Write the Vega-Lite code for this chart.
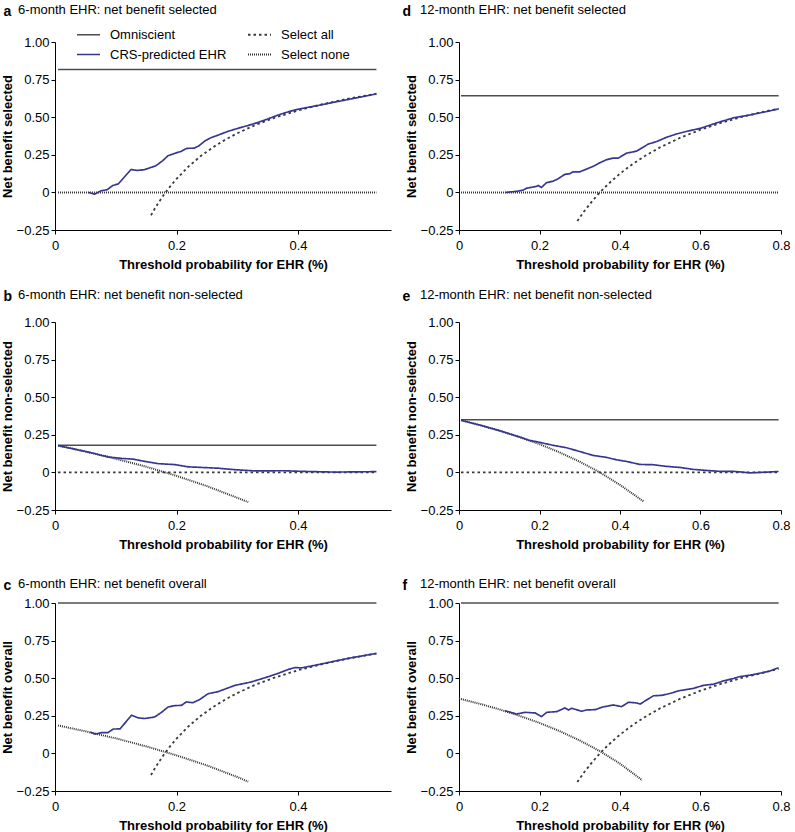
{
  "$schema": "https://vega.github.io/schema/vega-lite/v6.json",
  "padding": {"left": 1, "top": 4, "right": 0, "bottom": 0},
  "datasets": {
    "a": [
      {"series": "Omniscient", "x": 0.005, "y": 0.817}, {"series": "Omniscient", "x": 0.529, "y": 0.817},
      {"series": "Select none", "x": 0.005, "y": 0}, {"series": "Select none", "x": 0.529, "y": 0},
      {"series": "Select all", "x": 0.158, "y": -0.152}, {"series": "Select all", "x": 0.165, "y": -0.103},
      {"series": "Select all", "x": 0.17, "y": -0.071}, {"series": "Select all", "x": 0.18, "y": -0.011},
      {"series": "Select all", "x": 0.19, "y": 0.042}, {"series": "Select all", "x": 0.2, "y": 0.09},
      {"series": "Select all", "x": 0.22, "y": 0.173}, {"series": "Select all", "x": 0.24, "y": 0.242},
      {"series": "Select all", "x": 0.26, "y": 0.3}, {"series": "Select all", "x": 0.28, "y": 0.35},
      {"series": "Select all", "x": 0.3, "y": 0.393}, {"series": "Select all", "x": 0.33, "y": 0.449},
      {"series": "Select all", "x": 0.36, "y": 0.494}, {"series": "Select all", "x": 0.4, "y": 0.545},
      {"series": "Select all", "x": 0.44, "y": 0.586}, {"series": "Select all", "x": 0.48, "y": 0.621},
      {"series": "Select all", "x": 0.529, "y": 0.656},
      {"series": "CRS-predicted EHR", "x": 0.055, "y": 0.0}, {"series": "CRS-predicted EHR", "x": 0.065, "y": -0.012},
      {"series": "CRS-predicted EHR", "x": 0.076, "y": 0.011}, {"series": "CRS-predicted EHR", "x": 0.086, "y": 0.018},
      {"series": "CRS-predicted EHR", "x": 0.095, "y": 0.046}, {"series": "CRS-predicted EHR", "x": 0.104, "y": 0.056},
      {"series": "CRS-predicted EHR", "x": 0.125, "y": 0.152}, {"series": "CRS-predicted EHR", "x": 0.136, "y": 0.146},
      {"series": "CRS-predicted EHR", "x": 0.147, "y": 0.151}, {"series": "CRS-predicted EHR", "x": 0.166, "y": 0.177},
      {"series": "CRS-predicted EHR", "x": 0.177, "y": 0.21}, {"series": "CRS-predicted EHR", "x": 0.186, "y": 0.244},
      {"series": "CRS-predicted EHR", "x": 0.202, "y": 0.266}, {"series": "CRS-predicted EHR", "x": 0.207, "y": 0.272},
      {"series": "CRS-predicted EHR", "x": 0.217, "y": 0.293}, {"series": "CRS-predicted EHR", "x": 0.229, "y": 0.294},
      {"series": "CRS-predicted EHR", "x": 0.237, "y": 0.31}, {"series": "CRS-predicted EHR", "x": 0.247, "y": 0.343},
      {"series": "CRS-predicted EHR", "x": 0.257, "y": 0.364}, {"series": "CRS-predicted EHR", "x": 0.268, "y": 0.38},
      {"series": "CRS-predicted EHR", "x": 0.284, "y": 0.405}, {"series": "CRS-predicted EHR", "x": 0.301, "y": 0.426},
      {"series": "CRS-predicted EHR", "x": 0.317, "y": 0.444}, {"series": "CRS-predicted EHR", "x": 0.334, "y": 0.465},
      {"series": "CRS-predicted EHR", "x": 0.35, "y": 0.488}, {"series": "CRS-predicted EHR", "x": 0.367, "y": 0.514},
      {"series": "CRS-predicted EHR", "x": 0.384, "y": 0.536}, {"series": "CRS-predicted EHR", "x": 0.4, "y": 0.553},
      {"series": "CRS-predicted EHR", "x": 0.433, "y": 0.578}, {"series": "CRS-predicted EHR", "x": 0.46, "y": 0.6},
      {"series": "CRS-predicted EHR", "x": 0.488, "y": 0.622}, {"series": "CRS-predicted EHR", "x": 0.529, "y": 0.655}
    ],
    "b": [
      {"series": "Omniscient", "x": 0.005, "y": 0.181}, {"series": "Omniscient", "x": 0.529, "y": 0.181},
      {"series": "Select all", "x": 0.005, "y": 0}, {"series": "Select all", "x": 0.529, "y": 0},
      {"series": "Select none", "x": 0.005, "y": 0.178}, {"series": "Select none", "x": 0.05, "y": 0.139},
      {"series": "Select none", "x": 0.1, "y": 0.091}, {"series": "Select none", "x": 0.15, "y": 0.038},
      {"series": "Select none", "x": 0.2, "y": -0.023}, {"series": "Select none", "x": 0.25, "y": -0.091},
      {"series": "Select none", "x": 0.3, "y": -0.169}, {"series": "Select none", "x": 0.318, "y": -0.197},
      {"series": "CRS-predicted EHR", "x": 0.005, "y": 0.178}, {"series": "CRS-predicted EHR", "x": 0.03, "y": 0.157},
      {"series": "CRS-predicted EHR", "x": 0.06, "y": 0.13}, {"series": "CRS-predicted EHR", "x": 0.088, "y": 0.102},
      {"series": "CRS-predicted EHR", "x": 0.11, "y": 0.093}, {"series": "CRS-predicted EHR", "x": 0.129, "y": 0.088},
      {"series": "CRS-predicted EHR", "x": 0.148, "y": 0.073}, {"series": "CRS-predicted EHR", "x": 0.17, "y": 0.058},
      {"series": "CRS-predicted EHR", "x": 0.197, "y": 0.052}, {"series": "CRS-predicted EHR", "x": 0.219, "y": 0.037},
      {"series": "CRS-predicted EHR", "x": 0.252, "y": 0.031}, {"series": "CRS-predicted EHR", "x": 0.268, "y": 0.028},
      {"series": "CRS-predicted EHR", "x": 0.296, "y": 0.018}, {"series": "CRS-predicted EHR", "x": 0.329, "y": 0.01},
      {"series": "CRS-predicted EHR", "x": 0.378, "y": 0.011}, {"series": "CRS-predicted EHR", "x": 0.405, "y": 0.007},
      {"series": "CRS-predicted EHR", "x": 0.46, "y": 0.002}, {"series": "CRS-predicted EHR", "x": 0.529, "y": 0.005}
    ],
    "c": [
      {"series": "Omniscient", "x": 0.005, "y": 1}, {"series": "Omniscient", "x": 0.529, "y": 1},
      {"series": "Select none", "x": 0.005, "y": 0.186}, {"series": "Select none", "x": 0.05, "y": 0.147},
      {"series": "Select none", "x": 0.1, "y": 0.1}, {"series": "Select none", "x": 0.15, "y": 0.047},
      {"series": "Select none", "x": 0.2, "y": -0.013}, {"series": "Select none", "x": 0.25, "y": -0.08},
      {"series": "Select none", "x": 0.3, "y": -0.157}, {"series": "Select none", "x": 0.318, "y": -0.188},
      {"series": "Select all", "x": 0.158, "y": -0.144}, {"series": "Select all", "x": 0.165, "y": -0.095},
      {"series": "Select all", "x": 0.17, "y": -0.063}, {"series": "Select all", "x": 0.18, "y": -0.003},
      {"series": "Select all", "x": 0.19, "y": 0.05}, {"series": "Select all", "x": 0.2, "y": 0.098},
      {"series": "Select all", "x": 0.22, "y": 0.181}, {"series": "Select all", "x": 0.24, "y": 0.25},
      {"series": "Select all", "x": 0.26, "y": 0.308}, {"series": "Select all", "x": 0.28, "y": 0.358},
      {"series": "Select all", "x": 0.3, "y": 0.401}, {"series": "Select all", "x": 0.33, "y": 0.457},
      {"series": "Select all", "x": 0.36, "y": 0.502}, {"series": "Select all", "x": 0.4, "y": 0.553},
      {"series": "Select all", "x": 0.44, "y": 0.594}, {"series": "Select all", "x": 0.48, "y": 0.629},
      {"series": "Select all", "x": 0.529, "y": 0.664},
      {"series": "CRS-predicted EHR", "x": 0.058, "y": 0.142}, {"series": "CRS-predicted EHR", "x": 0.066, "y": 0.128},
      {"series": "CRS-predicted EHR", "x": 0.077, "y": 0.138}, {"series": "CRS-predicted EHR", "x": 0.087, "y": 0.138},
      {"series": "CRS-predicted EHR", "x": 0.096, "y": 0.162}, {"series": "CRS-predicted EHR", "x": 0.107, "y": 0.163},
      {"series": "CRS-predicted EHR", "x": 0.126, "y": 0.254}, {"series": "CRS-predicted EHR", "x": 0.137, "y": 0.236},
      {"series": "CRS-predicted EHR", "x": 0.148, "y": 0.232}, {"series": "CRS-predicted EHR", "x": 0.164, "y": 0.242},
      {"series": "CRS-predicted EHR", "x": 0.175, "y": 0.272}, {"series": "CRS-predicted EHR", "x": 0.186, "y": 0.308},
      {"series": "CRS-predicted EHR", "x": 0.197, "y": 0.318}, {"series": "CRS-predicted EHR", "x": 0.208, "y": 0.319},
      {"series": "CRS-predicted EHR", "x": 0.216, "y": 0.342}, {"series": "CRS-predicted EHR", "x": 0.227, "y": 0.337},
      {"series": "CRS-predicted EHR", "x": 0.238, "y": 0.358}, {"series": "CRS-predicted EHR", "x": 0.252, "y": 0.397},
      {"series": "CRS-predicted EHR", "x": 0.268, "y": 0.41}, {"series": "CRS-predicted EHR", "x": 0.296, "y": 0.452},
      {"series": "CRS-predicted EHR", "x": 0.323, "y": 0.475}, {"series": "CRS-predicted EHR", "x": 0.351, "y": 0.51},
      {"series": "CRS-predicted EHR", "x": 0.367, "y": 0.532}, {"series": "CRS-predicted EHR", "x": 0.384, "y": 0.558},
      {"series": "CRS-predicted EHR", "x": 0.395, "y": 0.571}, {"series": "CRS-predicted EHR", "x": 0.405, "y": 0.568},
      {"series": "CRS-predicted EHR", "x": 0.433, "y": 0.59}, {"series": "CRS-predicted EHR", "x": 0.46, "y": 0.613},
      {"series": "CRS-predicted EHR", "x": 0.488, "y": 0.636}, {"series": "CRS-predicted EHR", "x": 0.529, "y": 0.665}
    ],
    "d": [
      {"series": "Omniscient", "x": 0.005, "y": 0.643}, {"series": "Omniscient", "x": 0.794, "y": 0.643},
      {"series": "Select none", "x": 0.005, "y": 0}, {"series": "Select none", "x": 0.794, "y": 0},
      {"series": "Select all", "x": 0.294, "y": -0.19}, {"series": "Select all", "x": 0.31, "y": -0.129},
      {"series": "Select all", "x": 0.33, "y": -0.061}, {"series": "Select all", "x": 0.35, "y": 0.0},
      {"series": "Select all", "x": 0.37, "y": 0.054}, {"series": "Select all", "x": 0.4, "y": 0.125},
      {"series": "Select all", "x": 0.43, "y": 0.186}, {"series": "Select all", "x": 0.46, "y": 0.239},
      {"series": "Select all", "x": 0.5, "y": 0.3}, {"series": "Select all", "x": 0.55, "y": 0.364},
      {"series": "Select all", "x": 0.6, "y": 0.417}, {"series": "Select all", "x": 0.65, "y": 0.462},
      {"series": "Select all", "x": 0.7, "y": 0.5}, {"series": "Select all", "x": 0.75, "y": 0.533},
      {"series": "Select all", "x": 0.794, "y": 0.557},
      {"series": "CRS-predicted EHR", "x": 0.116, "y": 0.0}, {"series": "CRS-predicted EHR", "x": 0.143, "y": 0.007},
      {"series": "CRS-predicted EHR", "x": 0.159, "y": 0.015}, {"series": "CRS-predicted EHR", "x": 0.167, "y": 0.027},
      {"series": "CRS-predicted EHR", "x": 0.192, "y": 0.04}, {"series": "CRS-predicted EHR", "x": 0.197, "y": 0.046},
      {"series": "CRS-predicted EHR", "x": 0.205, "y": 0.033}, {"series": "CRS-predicted EHR", "x": 0.217, "y": 0.064},
      {"series": "CRS-predicted EHR", "x": 0.234, "y": 0.075}, {"series": "CRS-predicted EHR", "x": 0.246, "y": 0.09},
      {"series": "CRS-predicted EHR", "x": 0.263, "y": 0.12}, {"series": "CRS-predicted EHR", "x": 0.275, "y": 0.124},
      {"series": "CRS-predicted EHR", "x": 0.284, "y": 0.137}, {"series": "CRS-predicted EHR", "x": 0.3, "y": 0.137},
      {"series": "CRS-predicted EHR", "x": 0.317, "y": 0.155}, {"series": "CRS-predicted EHR", "x": 0.333, "y": 0.173},
      {"series": "CRS-predicted EHR", "x": 0.35, "y": 0.197}, {"series": "CRS-predicted EHR", "x": 0.366, "y": 0.217},
      {"series": "CRS-predicted EHR", "x": 0.383, "y": 0.228}, {"series": "CRS-predicted EHR", "x": 0.396, "y": 0.228},
      {"series": "CRS-predicted EHR", "x": 0.416, "y": 0.261}, {"series": "CRS-predicted EHR", "x": 0.441, "y": 0.274},
      {"series": "CRS-predicted EHR", "x": 0.458, "y": 0.301}, {"series": "CRS-predicted EHR", "x": 0.47, "y": 0.321},
      {"series": "CRS-predicted EHR", "x": 0.491, "y": 0.338}, {"series": "CRS-predicted EHR", "x": 0.516, "y": 0.367},
      {"series": "CRS-predicted EHR", "x": 0.541, "y": 0.389}, {"series": "CRS-predicted EHR", "x": 0.574, "y": 0.411},
      {"series": "CRS-predicted EHR", "x": 0.601, "y": 0.427}, {"series": "CRS-predicted EHR", "x": 0.64, "y": 0.462},
      {"series": "CRS-predicted EHR", "x": 0.682, "y": 0.496}, {"series": "CRS-predicted EHR", "x": 0.723, "y": 0.515},
      {"series": "CRS-predicted EHR", "x": 0.765, "y": 0.538}, {"series": "CRS-predicted EHR", "x": 0.794, "y": 0.555}
    ],
    "e": [
      {"series": "Omniscient", "x": 0.005, "y": 0.35}, {"series": "Omniscient", "x": 0.794, "y": 0.35},
      {"series": "Select all", "x": 0.005, "y": 0}, {"series": "Select all", "x": 0.794, "y": 0},
      {"series": "Select none", "x": 0.005, "y": 0.347}, {"series": "Select none", "x": 0.05, "y": 0.316},
      {"series": "Select none", "x": 0.1, "y": 0.278}, {"series": "Select none", "x": 0.15, "y": 0.235},
      {"series": "Select none", "x": 0.2, "y": 0.188}, {"series": "Select none", "x": 0.25, "y": 0.133},
      {"series": "Select none", "x": 0.3, "y": 0.071}, {"series": "Select none", "x": 0.35, "y": 0.0},
      {"series": "Select none", "x": 0.4, "y": -0.083}, {"series": "Select none", "x": 0.458, "y": -0.192},
      {"series": "CRS-predicted EHR", "x": 0.005, "y": 0.347}, {"series": "CRS-predicted EHR", "x": 0.05, "y": 0.316},
      {"series": "CRS-predicted EHR", "x": 0.1, "y": 0.278}, {"series": "CRS-predicted EHR", "x": 0.15, "y": 0.236},
      {"series": "CRS-predicted EHR", "x": 0.175, "y": 0.213}, {"series": "CRS-predicted EHR", "x": 0.2, "y": 0.2},
      {"series": "CRS-predicted EHR", "x": 0.234, "y": 0.18}, {"series": "CRS-predicted EHR", "x": 0.267, "y": 0.164},
      {"series": "CRS-predicted EHR", "x": 0.3, "y": 0.139}, {"series": "CRS-predicted EHR", "x": 0.333, "y": 0.113},
      {"series": "CRS-predicted EHR", "x": 0.366, "y": 0.1}, {"series": "CRS-predicted EHR", "x": 0.391, "y": 0.084},
      {"series": "CRS-predicted EHR", "x": 0.416, "y": 0.073}, {"series": "CRS-predicted EHR", "x": 0.449, "y": 0.053},
      {"series": "CRS-predicted EHR", "x": 0.483, "y": 0.051}, {"series": "CRS-predicted EHR", "x": 0.516, "y": 0.04},
      {"series": "CRS-predicted EHR", "x": 0.549, "y": 0.033}, {"series": "CRS-predicted EHR", "x": 0.582, "y": 0.02},
      {"series": "CRS-predicted EHR", "x": 0.615, "y": 0.013}, {"series": "CRS-predicted EHR", "x": 0.648, "y": 0.007},
      {"series": "CRS-predicted EHR", "x": 0.682, "y": 0.007}, {"series": "CRS-predicted EHR", "x": 0.723, "y": -0.003},
      {"series": "CRS-predicted EHR", "x": 0.765, "y": 0.002}, {"series": "CRS-predicted EHR", "x": 0.794, "y": 0.006}
    ],
    "f": [
      {"series": "Omniscient", "x": 0.005, "y": 1}, {"series": "Omniscient", "x": 0.794, "y": 1},
      {"series": "Select none", "x": 0.0, "y": 0.365}, {"series": "Select none", "x": 0.05, "y": 0.331},
      {"series": "Select none", "x": 0.1, "y": 0.293}, {"series": "Select none", "x": 0.15, "y": 0.25},
      {"series": "Select none", "x": 0.2, "y": 0.203}, {"series": "Select none", "x": 0.25, "y": 0.148},
      {"series": "Select none", "x": 0.3, "y": 0.086}, {"series": "Select none", "x": 0.35, "y": 0.015},
      {"series": "Select none", "x": 0.4, "y": -0.068}, {"series": "Select none", "x": 0.455, "y": -0.178},
      {"series": "Select all", "x": 0.294, "y": -0.19}, {"series": "Select all", "x": 0.31, "y": -0.129},
      {"series": "Select all", "x": 0.33, "y": -0.061}, {"series": "Select all", "x": 0.35, "y": 0.0},
      {"series": "Select all", "x": 0.37, "y": 0.054}, {"series": "Select all", "x": 0.4, "y": 0.125},
      {"series": "Select all", "x": 0.43, "y": 0.186}, {"series": "Select all", "x": 0.46, "y": 0.239},
      {"series": "Select all", "x": 0.5, "y": 0.3}, {"series": "Select all", "x": 0.55, "y": 0.364},
      {"series": "Select all", "x": 0.6, "y": 0.417}, {"series": "Select all", "x": 0.65, "y": 0.462},
      {"series": "Select all", "x": 0.7, "y": 0.5}, {"series": "Select all", "x": 0.75, "y": 0.533},
      {"series": "Select all", "x": 0.794, "y": 0.562},
      {"series": "CRS-predicted EHR", "x": 0.114, "y": 0.284}, {"series": "CRS-predicted EHR", "x": 0.143, "y": 0.262},
      {"series": "CRS-predicted EHR", "x": 0.164, "y": 0.273}, {"series": "CRS-predicted EHR", "x": 0.189, "y": 0.269},
      {"series": "CRS-predicted EHR", "x": 0.205, "y": 0.245}, {"series": "CRS-predicted EHR", "x": 0.218, "y": 0.273},
      {"series": "CRS-predicted EHR", "x": 0.243, "y": 0.278}, {"series": "CRS-predicted EHR", "x": 0.263, "y": 0.302},
      {"series": "CRS-predicted EHR", "x": 0.272, "y": 0.289}, {"series": "CRS-predicted EHR", "x": 0.28, "y": 0.3},
      {"series": "CRS-predicted EHR", "x": 0.305, "y": 0.28}, {"series": "CRS-predicted EHR", "x": 0.318, "y": 0.289},
      {"series": "CRS-predicted EHR", "x": 0.339, "y": 0.291}, {"series": "CRS-predicted EHR", "x": 0.355, "y": 0.307},
      {"series": "CRS-predicted EHR", "x": 0.383, "y": 0.322}, {"series": "CRS-predicted EHR", "x": 0.404, "y": 0.311},
      {"series": "CRS-predicted EHR", "x": 0.421, "y": 0.34}, {"series": "CRS-predicted EHR", "x": 0.442, "y": 0.335},
      {"series": "CRS-predicted EHR", "x": 0.45, "y": 0.328}, {"series": "CRS-predicted EHR", "x": 0.466, "y": 0.355},
      {"series": "CRS-predicted EHR", "x": 0.483, "y": 0.383}, {"series": "CRS-predicted EHR", "x": 0.504, "y": 0.386},
      {"series": "CRS-predicted EHR", "x": 0.528, "y": 0.401}, {"series": "CRS-predicted EHR", "x": 0.545, "y": 0.416},
      {"series": "CRS-predicted EHR", "x": 0.582, "y": 0.432}, {"series": "CRS-predicted EHR", "x": 0.607, "y": 0.452},
      {"series": "CRS-predicted EHR", "x": 0.632, "y": 0.46}, {"series": "CRS-predicted EHR", "x": 0.657, "y": 0.482},
      {"series": "CRS-predicted EHR", "x": 0.682, "y": 0.498}, {"series": "CRS-predicted EHR", "x": 0.698, "y": 0.511},
      {"series": "CRS-predicted EHR", "x": 0.723, "y": 0.52}, {"series": "CRS-predicted EHR", "x": 0.748, "y": 0.533},
      {"series": "CRS-predicted EHR", "x": 0.773, "y": 0.548}, {"series": "CRS-predicted EHR", "x": 0.794, "y": 0.57}
    ],
    "anchor": [{"t": 0}]
  },
  "vconcat": [
    {
      "vconcat": [
        {
          "hconcat": [
            {
              "width": 336, "height": 188,
              "title": {"text": "6-month EHR: net benefit selected", "dx": 17, "offset": -13},
              "layer": [
                {
                  "data": {"name": "a"},
                  "mark": {"type": "line"},
                  "encoding": {
                    "x": {"field": "x", "type": "quantitative", "scale": {"domain": [0, 0.553], "nice": false, "zero": false}, "axis": {"values": [0, 0.2, 0.4], "title": "Threshold probability for EHR (%)", "labelExpr": "datum.value == 0 ? '0' : format(datum.value, '.1f')"}},
                    "y": {"field": "y", "type": "quantitative", "scale": {"domain": [-0.25, 1], "nice": false}, "axis": {"values": [-0.25, 0, 0.25, 0.5, 0.75, 1], "title": "Net benefit selected", "labelExpr": "datum.value == 0 ? '0' : format(datum.value, '.2f')"}},
                    "color": {"field": "series", "type": "nominal", "scale": {"domain": ["Omniscient", "CRS-predicted EHR", "Select all", "Select none"], "range": ["#4d4d4d", "#363690", "#3a3a3a", "#333333"]},
                      "legend": {"orient": "none", "legendX": 21, "legendY": -20, "columns": 2, "title": null, "symbolType": "stroke", "symbolSize": 529, "symbolStrokeWidth": 1.5, "labelFontSize": 13, "labelColor": "#000", "columnPadding": 17, "rowPadding": -1, "labelOffset": 9, "padding": 0}},
                    "strokeDash": {"field": "series", "type": "nominal", "scale": {"domain": ["Omniscient", "CRS-predicted EHR", "Select all", "Select none"], "range": [[1, 0], [1, 0], [2.5, 3], [1, 1]]},
                      "legend": {"orient": "none", "legendX": 21, "legendY": -20, "columns": 2, "title": null, "symbolType": "stroke", "symbolSize": 529, "symbolStrokeWidth": 1.5, "labelFontSize": 13, "labelColor": "#000", "columnPadding": 17, "rowPadding": -1, "labelOffset": 9, "padding": 0}},
                    "strokeWidth": {"field": "series", "type": "nominal", "scale": {"domain": ["Omniscient", "CRS-predicted EHR", "Select all", "Select none"], "range": [1.5, 2, 1, 1.5]}, "legend": null}
                  }
                },
                {
                  "data": {"name": "anchor"},
                  "mark": {"type": "rule", "opacity": 0},
                  "encoding": {"x": {"field": "t", "type": "quantitative", "axis": {"orient": "top", "domain": false, "ticks": false, "labels": false, "title": "a", "titleX": -52, "titleY": -31, "titleAlign": "left", "titleBaseline": "middle", "titleAngle": 0, "titleFontSize": 14}}}
                }
              ],
              "resolve": {"scale": {"x": "independent"}}
            },
            {
              "width": 322, "height": 188,
              "title": {"text": "12-month EHR: net benefit selected", "dx": 18, "offset": -13},
              "layer": [
                {
                  "data": {"name": "d"},
                  "mark": {"type": "line"},
                  "encoding": {
                    "x": {"field": "x", "type": "quantitative", "scale": {"domain": [0, 0.8], "nice": false, "zero": false}, "axis": {"values": [0, 0.2, 0.4, 0.6, 0.8], "title": "Threshold probability for EHR (%)", "labelExpr": "datum.value == 0 ? '0' : format(datum.value, '.1f')"}},
                    "y": {"field": "y", "type": "quantitative", "scale": {"domain": [-0.25, 1], "nice": false}, "axis": {"values": [-0.25, 0, 0.25, 0.5, 0.75, 1], "title": "Net benefit selected", "labelExpr": "datum.value == 0 ? '0' : format(datum.value, '.2f')"}},
                    "color": {"field": "series", "type": "nominal", "scale": {"domain": ["Omniscient", "CRS-predicted EHR", "Select all", "Select none"], "range": ["#4d4d4d", "#363690", "#3a3a3a", "#333333"]}, "legend": null},
                    "strokeDash": {"field": "series", "type": "nominal", "scale": {"domain": ["Omniscient", "CRS-predicted EHR", "Select all", "Select none"], "range": [[1, 0], [1, 0], [2.5, 3], [1, 1]]}, "legend": null},
                    "strokeWidth": {"field": "series", "type": "nominal", "scale": {"domain": ["Omniscient", "CRS-predicted EHR", "Select all", "Select none"], "range": [1.5, 2, 1, 1.5]}, "legend": null}
                  }
                },
                {
                  "data": {"name": "anchor"},
                  "mark": {"type": "rule", "opacity": 0},
                  "encoding": {"x": {"field": "t", "type": "quantitative", "axis": {"orient": "top", "domain": false, "ticks": false, "labels": false, "title": "d", "titleX": -57, "titleY": -31, "titleAlign": "left", "titleBaseline": "middle", "titleAngle": 0, "titleFontSize": 14}}}
                }
              ],
              "resolve": {"scale": {"x": "independent"}}
            }
          ],
          "spacing": 11,
          "resolve": {"scale": {"color": "independent", "strokeDash": "independent", "strokeWidth": "independent"}, "legend": {"color": "independent", "strokeDash": "independent"}}
        },
        {
          "hconcat": [
            {
              "width": 336, "height": 188,
              "title": {"text": "6-month EHR: net benefit non-selected", "dx": 17, "offset": -13},
              "layer": [
                {
                  "data": {"name": "b"},
                  "mark": {"type": "line"},
                  "encoding": {
                    "x": {"field": "x", "type": "quantitative", "scale": {"domain": [0, 0.553], "nice": false, "zero": false}, "axis": {"values": [0, 0.2, 0.4], "title": "Threshold probability for EHR (%)", "labelExpr": "datum.value == 0 ? '0' : format(datum.value, '.1f')"}},
                    "y": {"field": "y", "type": "quantitative", "scale": {"domain": [-0.25, 1], "nice": false}, "axis": {"values": [-0.25, 0, 0.25, 0.5, 0.75, 1], "title": "Net benefit non-selected", "labelExpr": "datum.value == 0 ? '0' : format(datum.value, '.2f')"}},
                    "color": {"field": "series", "type": "nominal", "scale": {"domain": ["Omniscient", "CRS-predicted EHR", "Select all", "Select none"], "range": ["#4d4d4d", "#363690", "#3a3a3a", "#333333"]}, "legend": null},
                    "strokeDash": {"field": "series", "type": "nominal", "scale": {"domain": ["Omniscient", "CRS-predicted EHR", "Select all", "Select none"], "range": [[1, 0], [1, 0], [2.5, 3], [1, 1]]}, "legend": null},
                    "strokeWidth": {"field": "series", "type": "nominal", "scale": {"domain": ["Omniscient", "CRS-predicted EHR", "Select all", "Select none"], "range": [1.5, 2, 1, 1.5]}, "legend": null}
                  }
                },
                {
                  "data": {"name": "anchor"},
                  "mark": {"type": "rule", "opacity": 0},
                  "encoding": {"x": {"field": "t", "type": "quantitative", "axis": {"orient": "top", "domain": false, "ticks": false, "labels": false, "title": "b", "titleX": -52, "titleY": -26, "titleAlign": "left", "titleBaseline": "middle", "titleAngle": 0, "titleFontSize": 14}}}
                }
              ],
              "resolve": {"scale": {"x": "independent"}}
            },
            {
              "width": 322, "height": 188,
              "title": {"text": "12-month EHR: net benefit non-selected", "dx": 18, "offset": -13},
              "layer": [
                {
                  "data": {"name": "e"},
                  "mark": {"type": "line"},
                  "encoding": {
                    "x": {"field": "x", "type": "quantitative", "scale": {"domain": [0, 0.8], "nice": false, "zero": false}, "axis": {"values": [0, 0.2, 0.4, 0.6, 0.8], "title": "Threshold probability for EHR (%)", "labelExpr": "datum.value == 0 ? '0' : format(datum.value, '.1f')"}},
                    "y": {"field": "y", "type": "quantitative", "scale": {"domain": [-0.25, 1], "nice": false}, "axis": {"values": [-0.25, 0, 0.25, 0.5, 0.75, 1], "title": "Net benefit non-selected", "labelExpr": "datum.value == 0 ? '0' : format(datum.value, '.2f')"}},
                    "color": {"field": "series", "type": "nominal", "scale": {"domain": ["Omniscient", "CRS-predicted EHR", "Select all", "Select none"], "range": ["#4d4d4d", "#363690", "#3a3a3a", "#333333"]}, "legend": null},
                    "strokeDash": {"field": "series", "type": "nominal", "scale": {"domain": ["Omniscient", "CRS-predicted EHR", "Select all", "Select none"], "range": [[1, 0], [1, 0], [2.5, 3], [1, 1]]}, "legend": null},
                    "strokeWidth": {"field": "series", "type": "nominal", "scale": {"domain": ["Omniscient", "CRS-predicted EHR", "Select all", "Select none"], "range": [1.5, 2, 1, 1.5]}, "legend": null}
                  }
                },
                {
                  "data": {"name": "anchor"},
                  "mark": {"type": "rule", "opacity": 0},
                  "encoding": {"x": {"field": "t", "type": "quantitative", "axis": {"orient": "top", "domain": false, "ticks": false, "labels": false, "title": "e", "titleX": -57, "titleY": -26, "titleAlign": "left", "titleBaseline": "middle", "titleAngle": 0, "titleFontSize": 14}}}
                }
              ],
              "resolve": {"scale": {"x": "independent"}}
            }
          ],
          "spacing": 11,
          "resolve": {"scale": {"color": "independent", "strokeDash": "independent", "strokeWidth": "independent"}}
        }
      ],
      "spacing": 18,
      "resolve": {"scale": {"color": "independent", "strokeDash": "independent", "strokeWidth": "independent"}}
    },
    {
      "hconcat": [
        {
          "width": 336, "height": 188,
          "title": {"text": "6-month EHR: net benefit overall", "dx": 17, "offset": -13},
          "layer": [
            {
              "data": {"name": "c"},
              "mark": {"type": "line"},
              "encoding": {
                "x": {"field": "x", "type": "quantitative", "scale": {"domain": [0, 0.553], "nice": false, "zero": false}, "axis": {"values": [0, 0.2, 0.4], "title": "Threshold probability for EHR (%)", "labelExpr": "datum.value == 0 ? '0' : format(datum.value, '.1f')"}},
                "y": {"field": "y", "type": "quantitative", "scale": {"domain": [-0.25, 1], "nice": false}, "axis": {"values": [-0.25, 0, 0.25, 0.5, 0.75, 1], "title": "Net benefit overall", "labelExpr": "datum.value == 0 ? '0' : format(datum.value, '.2f')"}},
                "color": {"field": "series", "type": "nominal", "scale": {"domain": ["Omniscient", "CRS-predicted EHR", "Select all", "Select none"], "range": ["#4d4d4d", "#363690", "#3a3a3a", "#333333"]}, "legend": null},
                "strokeDash": {"field": "series", "type": "nominal", "scale": {"domain": ["Omniscient", "CRS-predicted EHR", "Select all", "Select none"], "range": [[1, 0], [1, 0], [2.5, 3], [1, 1]]}, "legend": null},
                "strokeWidth": {"field": "series", "type": "nominal", "scale": {"domain": ["Omniscient", "CRS-predicted EHR", "Select all", "Select none"], "range": [1.5, 2, 1, 1.5]}, "legend": null}
              }
            },
            {
              "data": {"name": "anchor"},
              "mark": {"type": "rule", "opacity": 0},
              "encoding": {"x": {"field": "t", "type": "quantitative", "axis": {"orient": "top", "domain": false, "ticks": false, "labels": false, "title": "c", "titleX": -52, "titleY": -18, "titleAlign": "left", "titleBaseline": "middle", "titleAngle": 0, "titleFontSize": 14}}}
            }
          ],
          "resolve": {"scale": {"x": "independent"}}
        },
        {
          "width": 322, "height": 188,
          "title": {"text": "12-month EHR: net benefit overall", "dx": 18, "offset": -13},
          "layer": [
            {
              "data": {"name": "f"},
              "mark": {"type": "line"},
              "encoding": {
                "x": {"field": "x", "type": "quantitative", "scale": {"domain": [0, 0.8], "nice": false, "zero": false}, "axis": {"values": [0, 0.2, 0.4, 0.6, 0.8], "title": "Threshold probability for EHR (%)", "labelExpr": "datum.value == 0 ? '0' : format(datum.value, '.1f')"}},
                "y": {"field": "y", "type": "quantitative", "scale": {"domain": [-0.25, 1], "nice": false}, "axis": {"values": [-0.25, 0, 0.25, 0.5, 0.75, 1], "title": "Net benefit overall", "labelExpr": "datum.value == 0 ? '0' : format(datum.value, '.2f')"}},
                "color": {"field": "series", "type": "nominal", "scale": {"domain": ["Omniscient", "CRS-predicted EHR", "Select all", "Select none"], "range": ["#4d4d4d", "#363690", "#3a3a3a", "#333333"]}, "legend": null},
                "strokeDash": {"field": "series", "type": "nominal", "scale": {"domain": ["Omniscient", "CRS-predicted EHR", "Select all", "Select none"], "range": [[1, 0], [1, 0], [2.5, 3], [1, 1]]}, "legend": null},
                "strokeWidth": {"field": "series", "type": "nominal", "scale": {"domain": ["Omniscient", "CRS-predicted EHR", "Select all", "Select none"], "range": [1.5, 2, 1, 1.5]}, "legend": null}
              }
            },
            {
              "data": {"name": "anchor"},
              "mark": {"type": "rule", "opacity": 0},
              "encoding": {"x": {"field": "t", "type": "quantitative", "axis": {"orient": "top", "domain": false, "ticks": false, "labels": false, "title": "f", "titleX": -57, "titleY": -18, "titleAlign": "left", "titleBaseline": "middle", "titleAngle": 0, "titleFontSize": 14}}}
            }
          ],
          "resolve": {"scale": {"x": "independent"}}
        }
      ],
      "spacing": 11,
      "resolve": {"scale": {"color": "independent", "strokeDash": "independent", "strokeWidth": "independent"}}
    }
  ],
  "spacing": 27,
  "resolve": {"scale": {"color": "independent", "strokeDash": "independent", "strokeWidth": "independent"}},
  "config": {
    "font": "Liberation Sans",
    "background": "#ffffff",
    "view": {"stroke": null},
    "axis": {"grid": false, "domainColor": "#000000", "tickColor": "#000000", "labelColor": "#000000", "titleColor": "#000000", "labelFontSize": 13, "titleFontSize": 13, "titleFontWeight": "bold", "tickSize": 4, "labelPadding": 2, "domainWidth": 1, "tickWidth": 1, "labelFont": "Liberation Sans", "titleFont": "Liberation Sans", "labelFlush": false},
    "axisX": {"titlePadding": 6, "labelPadding": 5},
    "axisY": {"titlePadding": 2},
    "title": {"anchor": "start", "frame": "bounds", "fontSize": 13, "fontWeight": "normal", "color": "#000000", "font": "Liberation Sans"}
  }
}
